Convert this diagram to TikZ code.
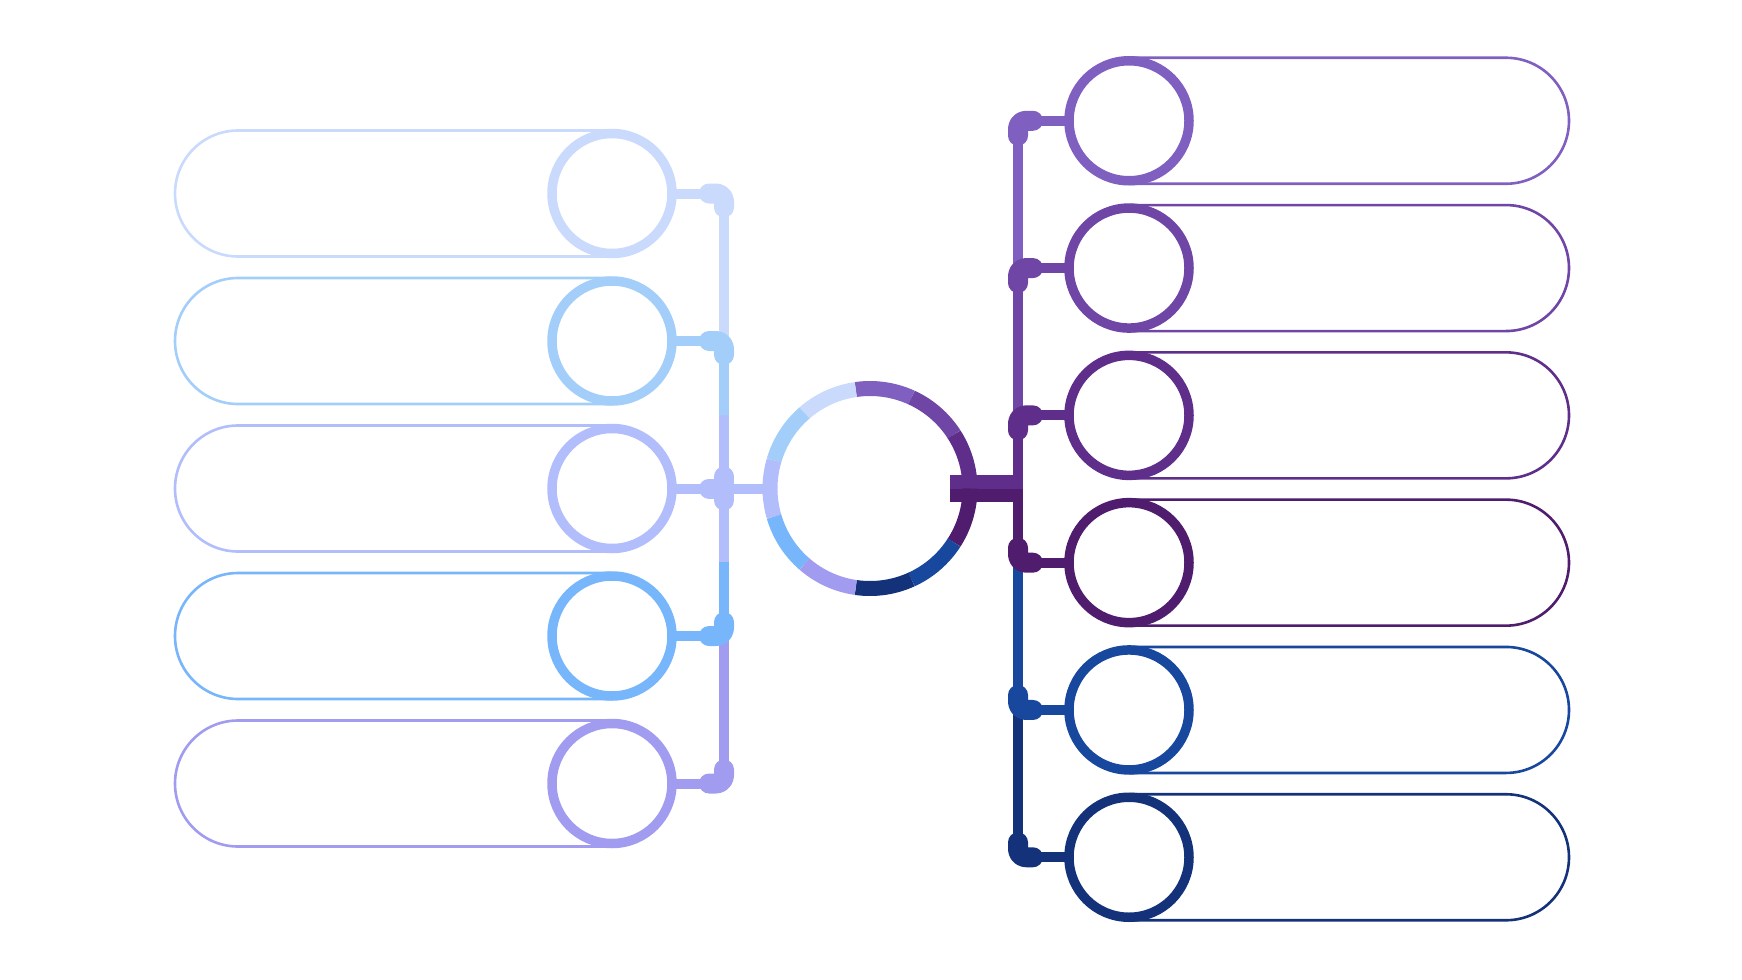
\documentclass[tikz,border=0pt]{standalone}
\usetikzlibrary{calc}
\definecolor{L1}{HTML}{C9DAFC}
\definecolor{L2}{HTML}{A3CEFA}
\definecolor{L3}{HTML}{B2BDFC}
\definecolor{L4}{HTML}{77B6FA}
\definecolor{L5}{HTML}{A19CF0}
\definecolor{R1}{HTML}{7F5FBF}
\definecolor{R2}{HTML}{6F45A6}
\definecolor{R3}{HTML}{5F2E8A}
\definecolor{R4}{HTML}{4F1C6E}
\definecolor{R5}{HTML}{18479E}
\definecolor{R6}{HTML}{14327A}
\begin{document}
\begin{tikzpicture}[x=0.5pt,y=-0.5pt,
  conn/.style={line width=5pt},
  pill/.style={line width=1.3pt},
  bubble/.style={circle,line width=4.75pt,minimum size=60pt,inner sep=0pt,fill=white},
  elbow/.style={line width=10pt,line cap=round,line join=round,rounded corners=4pt},
  ringseg/.style={line width=7.5pt}]
\useasboundingbox (0,0) rectangle (1742,980);
% positions
\coordinate (hubc) at (870,488.5);
\node[circle,minimum size=107.5pt,inner sep=0pt] (hub) at (hubc) {};
\foreach \i/\y in {1/193.5,2/341,3/488.5,4/636,5/783.5}{
  \coordinate (lc\i) at (612,\y);
  \coordinate (tl\i) at (724,\y);
}
\foreach \i/\y in {1/120.75,2/268.05,3/415.35,4/562.65,5/709.95,6/857.25}{
  \coordinate (rc\i) at (1129,\y);
  \coordinate (tr\i) at (1018,\y);
}
\coordinate (trc) at (1018,488.5);
% pills
\foreach \i in {1,...,5}{
  \draw[pill,draw=L\i] ([yshift=31.5pt]lc\i) -- ++(-374,0) arc[start angle=270,end angle=90,radius=63] -- ([yshift=-31.5pt]lc\i);
}
\foreach \i in {1,...,6}{
  \draw[pill,draw=R\i] ([yshift=31.5pt]rc\i) -- ++(377,0) arc[start angle=270,end angle=450,radius=63] -- ([yshift=-31.5pt]rc\i);
}
% trunks
\draw[conn,draw=L1] (tl1) -- (tl2);
\draw[conn,draw=L2] (tl2) -- ($(tl2)!0.5!(tl3)$);
\draw[conn,draw=L3] ($(tl2)!0.5!(tl3)$) -- ($(tl3)!0.5!(tl4)$);
\draw[conn,draw=L4] ($(tl3)!0.5!(tl4)$) -- (tl4);
\draw[conn,draw=L5] (tl4) -- (tl5);
\draw[conn,draw=R1] (tr1) -- (tr2);
\draw[conn,draw=R2] (tr2) -- (tr3);
\draw[conn,draw=R3] (tr3) -- (trc);
\draw[conn,draw=R4] (trc) -- (tr4);
\draw[conn,draw=R5] (tr4) -- (tr5);
\draw[conn,draw=R6] (tr5) -- (tr6);
% center links
\draw[conn,draw=L3] (tl3) -- ([xshift=3pt]hub.west);
\fill[fill=R3] (950,475) rectangle (1023,489);
\fill[fill=R4] (950,488.5) rectangle (1023,502);
% horizontal links
\foreach \i in {1,...,5}{ \draw[conn,draw=L\i] (lc\i) -- (tl\i); }
\foreach \i in {1,...,6}{ \draw[conn,draw=R\i] (tr\i) -- (rc\i); }
% elbows
\draw[elbow,draw=L1] ([xshift=-7.5pt]tl1) -| ([yshift=-7pt]tl1);
\draw[elbow,draw=L2] ([xshift=-7.5pt]tl2) -| ([yshift=-7pt]tl2);
\draw[elbow,draw=L3] ([xshift=-7.5pt]tl3) -- (tl3);
\draw[elbow,draw=L3] ([yshift=6pt]tl3) -- ([yshift=-6pt]tl3);
\draw[elbow,draw=L4] ([xshift=-7.5pt]tl4) -| ([yshift=7pt]tl4);
\draw[elbow,draw=L5] ([xshift=-7.5pt]tl5) -| ([yshift=7pt]tl5);
\draw[elbow,draw=R1] ([xshift=7.5pt]tr1) -| ([yshift=-7.5pt]tr1);
\draw[elbow,draw=R2] ([xshift=7.5pt]tr2) -| ([yshift=-7.5pt]tr2);
\draw[elbow,draw=R3] ([xshift=7.5pt]tr3) -| ([yshift=-7.5pt]tr3);
\draw[elbow,draw=R4] ([xshift=7.5pt]tr4) -| ([yshift=7.5pt]tr4);
\draw[elbow,draw=R5] ([xshift=7.5pt]tr5) -| ([yshift=7.5pt]tr5);
\draw[elbow,draw=R6] ([xshift=7.5pt]tr6) -| ([yshift=7.5pt]tr6);
% bubbles
\foreach \i in {1,...,5}{ \node[bubble,draw=L\i] (l\i) at (lc\i) {}; }
\foreach \i in {1,...,6}{ \node[bubble,draw=R\i] (r\i) at (rc\i) {}; }
% central ring
\foreach \a/\b/\c in {-98.18/-65.45/R1,-65.45/-32.73/R2,-32.73/0/R3,0/32.73/R4,32.73/65.45/R5,65.45/98.18/R6,
  -98.18/-130.91/L1,-130.91/-163.64/L2,-163.64/-196.36/L3,-196.36/-229.09/L4,-229.09/-261.82/L5}{
  \draw[ringseg,draw=\c] ([shift={(\a:100)}]hubc) arc[start angle=\a,end angle=\b,radius=100];
}
\end{tikzpicture}
\end{document}
